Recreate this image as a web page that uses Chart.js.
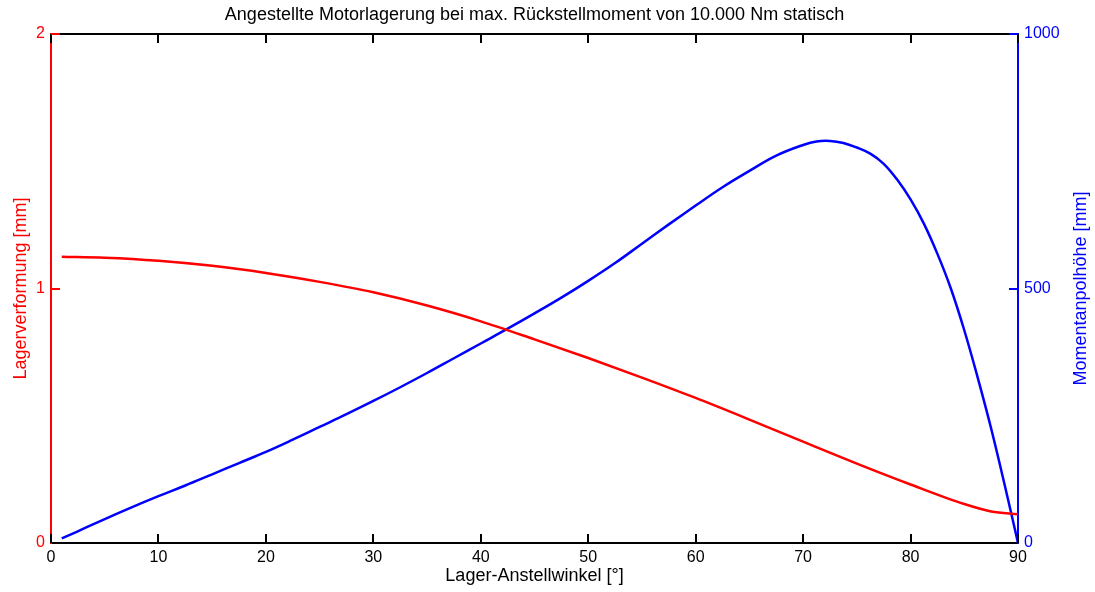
<!DOCTYPE html>
<html>
<head>
<meta charset="utf-8">
<script src="https://cdn.jsdelivr.net/npm/chart.js@4/dist/chart.umd.min.js"></script>
<style>
  html, body { margin: 0; padding: 0; background: #fff; }
  canvas { display: block; }
</style>
</head>
<body>
<canvas id="chart" width="1095" height="592"></canvas>
<script>
// Lager-Anstellwinkel [°]
const winkelRot = [1, 5, 10, 15, 20, 25, 30, 35, 40, 45, 50, 55, 60, 65, 70, 75, 80, 85, 87.5, 90];
// Lagerverformung [mm] (linke Achse)
const verformung = [1.125, 1.121, 1.109, 1.089, 1.061, 1.026, 0.985, 0.933, 0.871, 0.800, 0.727, 0.650, 0.570, 0.485, 0.398, 0.312, 0.230, 0.153, 0.124, 0.113];

const winkelBlau = [1, 2.5, 5, 7.5, 10, 12.5, 15, 17.5, 20, 22.5, 25, 27.5, 30, 32.5, 35, 37.5, 40, 42.5, 45, 47.5,
    50, 52.5, 55, 57.5, 60, 62.5, 65, 67.5, 70, 71.25, 72.5, 73.75, 75, 76.25, 77.5, 78.75,
    80, 81.25, 82.5, 83.75, 85, 86.25, 87.5, 88.75, 90];
// Momentanpolhöhe [mm] (rechte Achse)
const polhoehe = [9, 23, 47, 70, 92, 113, 135, 157, 179, 203, 228, 253, 279, 306, 334, 363, 392, 421, 451, 482,
    515, 550, 588, 626, 663, 699, 731, 761, 782, 789, 790, 786, 777, 765, 745, 714,
    675, 627, 568, 500, 418, 325, 225, 115, 0];

const xTicks = [0, 10, 20, 30, 40, 50, 60, 70, 80, 90];
const leftTicks = [0, 1, 2];
const rightTicks = [0, 500, 1000];

const FONT = 'Liberation Sans, Arial, Helvetica, sans-serif';
const RED = '#ff0000';
const BLUE = '#0000ff';

function toPoints(xs, ys) {
    return xs.map((x, i) => ({ x: x, y: ys[i] }));
}

// MATLAB-artige Ticks nach innen, obere Rahmenlinie, rechter Achsentitel
const axisDecor = {
    id: 'axisDecor',
    afterDraw(chart) {
        const ctx = chart.ctx;
        const a = chart.chartArea;
        const x = chart.scales.x;
        const yl = chart.scales.y;
        const yr = chart.scales.y1;
        const len = 9;
        ctx.save();
        ctx.lineWidth = 2;

        // obere Rahmenlinie
        ctx.strokeStyle = '#000';
        ctx.beginPath();
        ctx.moveTo(a.left, a.top);
        ctx.lineTo(a.right, a.top);
        ctx.stroke();

        // x-Ticks unten und oben
        xTicks.forEach(v => {
            const px = Math.round(x.getPixelForValue(v));
            ctx.beginPath();
            ctx.moveTo(px, a.bottom);
            ctx.lineTo(px, a.bottom - len);
            ctx.moveTo(px, a.top);
            ctx.lineTo(px, a.top + len);
            ctx.stroke();
        });

        // linke Ticks
        ctx.strokeStyle = RED;
        leftTicks.forEach(v => {
            if (v === 0) return;
            const py = Math.round(yl.getPixelForValue(v));
            ctx.beginPath();
            ctx.moveTo(a.left, py);
            ctx.lineTo(a.left + len, py);
            ctx.stroke();
        });

        // rechte Ticks
        ctx.strokeStyle = BLUE;
        rightTicks.forEach(v => {
            if (v === 0) return;
            const py = Math.round(yr.getPixelForValue(v));
            ctx.beginPath();
            ctx.moveTo(a.right, py);
            ctx.lineTo(a.right - len, py);
            ctx.stroke();
        });

        // rechter Achsentitel, von unten nach oben gelesen
        ctx.fillStyle = BLUE;
        ctx.font = '18px ' + FONT;
        ctx.textAlign = 'center';
        ctx.textBaseline = 'middle';
        ctx.translate(1081, (a.top + a.bottom) / 2);
        ctx.rotate(-Math.PI / 2);
        ctx.fillText('Momentanpolhöhe [mm]', 0, 0);
        ctx.restore();
    }
};

new Chart(document.getElementById('chart'), {
    type: 'line',
    data: {
        datasets: [{
            label: 'Lagerverformung',
            data: toPoints(winkelRot, verformung),
            yAxisID: 'y',
            borderColor: RED,
            borderWidth: 2.5,
            pointRadius: 0,
            fill: false,
            cubicInterpolationMode: 'monotone'
        }, {
            label: 'Momentanpolhöhe',
            data: toPoints(winkelBlau, polhoehe),
            yAxisID: 'y1',
            borderColor: BLUE,
            borderWidth: 2.5,
            pointRadius: 0,
            fill: false,
            tension: 0.4
        }]
    },
    options: {
        responsive: false,
        animation: false,
        devicePixelRatio: 1,
        layout: { padding: 0 },
        plugins: {
            legend: { display: false },
            tooltip: { enabled: false },
            title: {
                display: true,
                fullSize: false,
                text: 'Angestellte Motorlagerung bei max. Rückstellmoment von 10.000 Nm statisch',
                color: '#000',
                font: { family: FONT, size: 18, weight: 'normal', lineHeight: 1.2 },
                padding: { top: 4, bottom: 8.4 }
            }
        },
        scales: {
            x: {
                type: 'linear',
                position: 'bottom',
                min: 0,
                max: 90,
                afterBuildTicks: s => { s.ticks = xTicks.map(v => ({ value: v })); },
                afterFit: s => { s.height = 49; },
                ticks: {
                    color: '#000',
                    font: { family: FONT, size: 16 },
                    padding: 5,
                    maxRotation: 0
                },
                grid: { display: true, drawOnChartArea: false, drawTicks: false },
                border: { color: '#000', width: 2 },
                title: {
                    display: true,
                    text: 'Lager-Anstellwinkel [°]',
                    color: '#000',
                    font: { family: FONT, size: 18 },
                    padding: { top: 0, bottom: 5 }
                }
            },
            y: {
                type: 'linear',
                position: 'left',
                min: 0,
                max: 2,
                afterBuildTicks: s => { s.ticks = leftTicks.map(v => ({ value: v })); },
                afterFit: s => { s.width = 51; },
                ticks: {
                    color: RED,
                    font: { family: FONT, size: 16 },
                    padding: 6,
                    callback: v => String(v)
                },
                grid: { display: true, drawOnChartArea: false, drawTicks: false },
                border: { color: RED, width: 2 },
                title: {
                    display: true,
                    text: 'Lagerverformung [mm]',
                    color: RED,
                    font: { family: FONT, size: 18 },
                    padding: { top: 10, bottom: 0 }
                }
            },
            y1: {
                type: 'linear',
                position: 'right',
                min: 0,
                max: 1000,
                afterBuildTicks: s => { s.ticks = rightTicks.map(v => ({ value: v })); },
                afterFit: s => { s.width = 77; },
                ticks: {
                    color: BLUE,
                    font: { family: FONT, size: 16 },
                    padding: 6,
                    callback: v => String(v)
                },
                grid: { display: true, drawOnChartArea: false, drawTicks: false },
                border: { color: BLUE, width: 2 }
            }
        }
    },
    plugins: [axisDecor]
});
</script>
</body>
</html>
